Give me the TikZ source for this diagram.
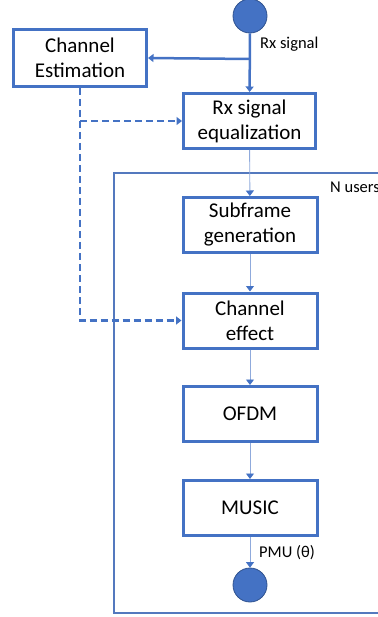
\documentclass[tikz,border=0pt]{standalone}
\usepackage{fontspec}
\setmainfont{Carlito}
\usetikzlibrary{arrows.meta}
\definecolor{ofblue}{HTML}{4472C4}
\definecolor{ofdark}{HTML}{2F528F}
\definecolor{thinblue}{HTML}{8FAADC}
\definecolor{frameblue}{HTML}{5479BE}
\tikzset{
  stepbox/.style={draw=ofblue, line width=3pt, fill=white, minimum width=134pt,
    minimum height=55pt, align=center, inner sep=0pt,
    font=\fontsize{21}{25}\selectfont},
  terminal/.style={circle, fill=ofblue, draw=ofdark, line width=0.8pt,
    minimum size=34pt, inner sep=0pt},
  mainconn/.style={draw=ofblue, line width=2.5pt, -{Triangle[width=8pt,length=5.5pt]}},
  thinconn/.style={draw=thinblue, line width=0.9pt, -{Triangle[width=8pt,length=5.5pt,color=ofblue]}},
  dashconn/.style={draw=ofblue, line width=2.5pt, dash pattern=on 7pt off 4pt,
    -{Triangle[width=8pt,length=5.5pt]}},
  lbl/.style={anchor=west, inner sep=0pt, font=\fontsize{16.5}{19}\selectfont},
}
\begin{document}
\begin{tikzpicture}[x=1pt, y=-1pt]
\useasboundingbox (0,0) rectangle (377,617);

% loop frame repeated for every user
\draw[frameblue, line width=1.4pt] (114,173) rectangle (420,613);
\node[lbl] (nusers) at (330,187) {N users};

% terminals
\node[terminal] (src) at (250,16) {};
\node[terminal] (sink) at (250,585) {};

% processing blocks
\node[stepbox, minimum width=133pt, minimum height=57pt] (chest) at (80,58) {Channel\\Estimation};
\node[stepbox, minimum width=132pt] (rxeq) at (249.5,121) {Rx signal\\equalization};
\node[stepbox] (subf) at (250,225) {Subframe\\generation};
\node[stepbox] (chan) at (250,320.5) {Channel\\effect};
\node[stepbox] (ofdm) at (250,414) {OFDM};
\node[stepbox] (music) at (250,508) {MUSIC};

% received signal path
\coordinate (split) at (src.south |- 0,59);
\draw[mainconn] (src) -- (rxeq);
\draw[mainconn] (split) -- (chest.east);
\node[lbl] (rxlbl) at (260,44) {Rx signal};

% channel estimate feeds (dashed)
\coordinate (bend) at (chest.south |- chan.west);
\coordinate (tap) at (chest.south |- rxeq.west);
\draw[dashconn] (chest.south) -- (bend) -- (chan.west);
\draw[dashconn] (tap) -- (rxeq.west);

% per-user chain
\draw[thinconn] (rxeq) -- (subf);
\draw[thinconn] (subf) -- (chan);
\draw[thinconn] (chan) -- (ofdm);
\draw[thinconn] (ofdm) -- (music);
\draw[thinconn] (music) -- (sink);
\node[lbl] (pmu) at (259,553) {PMU (θ)};
\end{tikzpicture}
\end{document}
